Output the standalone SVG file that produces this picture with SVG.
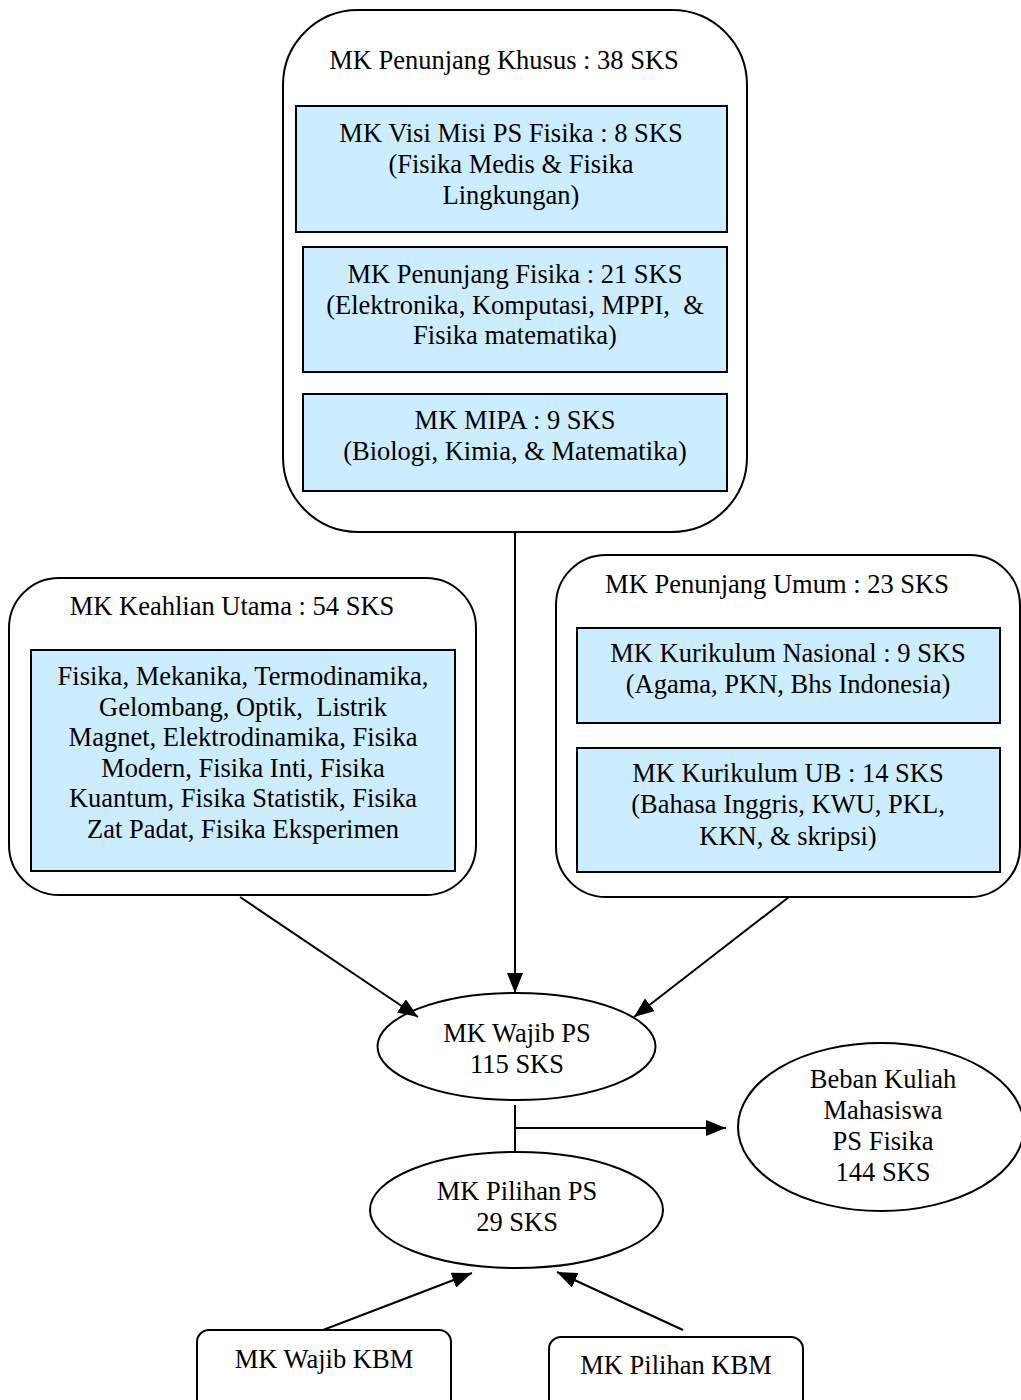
<svg xmlns="http://www.w3.org/2000/svg" width="1021" height="1400" viewBox="0 0 1021 1400">
<style>
text{font-family:"Liberation Serif","Times New Roman",serif;font-size:26.5px;fill:#000;text-anchor:middle;white-space:pre}
.c{fill:#fff;stroke:#000;stroke-width:2}
.b{fill:#CCECFF;stroke:#000;stroke-width:2}
.l{stroke:#000;stroke-width:2;fill:none}
</style>
<defs>
<marker id="ah" markerUnits="userSpaceOnUse" markerWidth="20" markerHeight="16" refX="20" refY="8" orient="auto" viewBox="0 0 20 16">
<path d="M0,0 L20,8 L0,16 z" fill="#000"/>
</marker>
</defs>
<rect width="1021" height="1400" fill="#fff"/>
<g id="penunjang-khusus">
<rect class="c" x="283" y="10" width="464" height="522" rx="75" ry="75"/>
<text x="504" y="69">MK Penunjang Khusus : 38 SKS</text>
</g>
<g id="visi-misi">
<rect class="b" x="296" y="106" width="431" height="126"/>
<text x="511" y="142">MK Visi Misi PS Fisika : 8 SKS</text>
<text x="511" y="173">(Fisika Medis &amp; Fisika</text>
<text x="511" y="204">Lingkungan)</text>
</g>
<g id="penunjang-fisika">
<rect class="b" x="303" y="247" width="424" height="125"/>
<text x="515" y="283">MK Penunjang Fisika : 21 SKS</text>
<text x="515" y="314" xml:space="preserve">(Elektronika, Komputasi, MPPI,  &amp;</text>
<text x="515" y="344">Fisika matematika)</text>
</g>
<g id="mipa">
<rect class="b" x="303" y="394" width="424" height="97"/>
<text x="515" y="429">MK MIPA : 9 SKS</text>
<text x="515" y="460">(Biologi, Kimia, &amp; Matematika)</text>
</g>
<g id="keahlian-utama">
<rect class="c" x="9" y="578" width="467" height="317" rx="50" ry="50"/>
<text x="232" y="615">MK Keahlian Utama : 54 SKS</text>
<rect class="b" x="31" y="650" width="424" height="221"/>
<text x="243" y="685">Fisika, Mekanika, Termodinamika,</text>
<text x="243" y="716" xml:space="preserve">Gelombang, Optik,  Listrik</text>
<text x="243" y="746">Magnet, Elektrodinamika, Fisika</text>
<text x="243" y="777">Modern, Fisika Inti, Fisika</text>
<text x="243" y="807">Kuantum, Fisika Statistik, Fisika</text>
<text x="243" y="838">Zat Padat, Fisika Eksperimen</text>
</g>
<g id="penunjang-umum">
<rect class="c" x="556" y="555" width="464" height="342" rx="50" ry="50"/>
<text x="777" y="593">MK Penunjang Umum : 23 SKS</text>
</g>
<g id="kurikulum-nasional">
<rect class="b" x="577" y="628" width="423" height="95"/>
<text x="788" y="662">MK Kurikulum Nasional : 9 SKS</text>
<text x="788" y="693">(Agama, PKN, Bhs Indonesia)</text>
</g>
<g id="kurikulum-ub">
<rect class="b" x="577" y="748" width="423" height="124"/>
<text x="788" y="782">MK Kurikulum UB : 14 SKS</text>
<text x="788" y="813">(Bahasa Inggris, KWU, PKL,</text>
<text x="788" y="845">KKN, &amp; skripsi)</text>
</g>
<g id="wajib-ps">
<ellipse class="c" cx="516.5" cy="1046.5" rx="139" ry="53.5"/>
<text x="517" y="1042">MK Wajib PS</text>
<text x="517" y="1073">115 SKS</text>
</g>
<g id="pilihan-ps">
<ellipse class="c" cx="516.5" cy="1210" rx="146.5" ry="58"/>
<text x="517" y="1200">MK Pilihan PS</text>
<text x="517" y="1231">29 SKS</text>
</g>
<g id="beban-kuliah">
<ellipse class="c" cx="881" cy="1127" rx="143" ry="84"/>
<text x="883" y="1088">Beban Kuliah</text>
<text x="883" y="1119">Mahasiswa</text>
<text x="883" y="1150">PS Fisika</text>
<text x="883" y="1181">144 SKS</text>
</g>
<g id="wajib-kbm">
<rect class="c" x="197" y="1330" width="254" height="90" rx="12" ry="12"/>
<text x="324" y="1368">MK Wajib KBM</text>
</g>
<g id="pilihan-kbm">
<rect class="c" x="549" y="1337" width="254" height="90" rx="12" ry="12"/>
<text x="676" y="1374">MK Pilihan KBM</text>
</g>
<g id="connectors">
<line class="l" x1="515" y1="532" x2="515" y2="993" marker-end="url(#ah)"/>
<line class="l" x1="240" y1="897" x2="418" y2="1017" marker-end="url(#ah)"/>
<line class="l" x1="789" y1="897" x2="634" y2="1017" marker-end="url(#ah)"/>
<line class="l" x1="515" y1="1105" x2="515" y2="1152"/>
<line class="l" x1="515" y1="1128" x2="726" y2="1128" marker-end="url(#ah)"/>
<line class="l" x1="323" y1="1330" x2="472" y2="1273" marker-end="url(#ah)"/>
<line class="l" x1="683" y1="1330" x2="557" y2="1272" marker-end="url(#ah)"/>
</g>
</svg>
